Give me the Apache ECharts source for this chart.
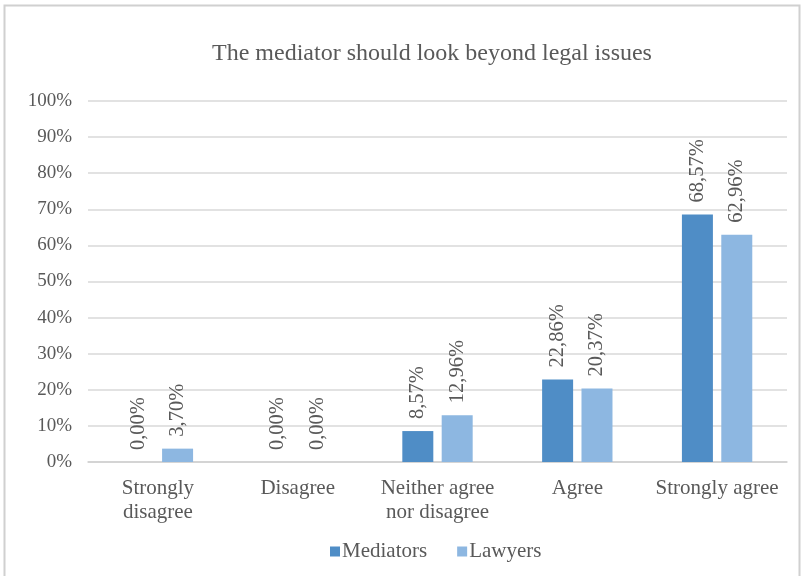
<!DOCTYPE html>
<html><head><meta charset="utf-8">
<script src="https://cdn.jsdelivr.net/npm/echarts@6/dist/echarts.min.js"></script>
<style>html,body{margin:0;padding:0;background:#fff}#c{width:805px;height:576px}</style>
</head><body><div id="c"></div>
<script>
const categories = ['Strongly\ndisagree', 'Disagree', 'Neither agree\nnor disagree', 'Agree', 'Strongly agree'];
const mediators = [0.00, 0.00, 8.57, 22.86, 68.57];
const lawyers = [3.70, 0.00, 12.96, 20.37, 62.96];
const titleText = 'The mediator should look beyond legal issues';
const font = '"Liberation Serif", "Times New Roman", serif';
const txt = '#595959';
const fmt = p => p.value.toFixed(2).replace('.', ',') + '%';
const chart = echarts.init(document.getElementById('c'), null, {renderer: 'canvas'});
const labelCfg = {show: true, position: 'top', rotate: 90, align: 'left', verticalAlign: 'middle', distance: 12,
  fontFamily: font, fontSize: 20.5, color: txt, formatter: fmt};
chart.setOption({
  animation: false,
  graphic: [{type: 'rect', shape: {x: 4.5, y: 5.5, width: 795, height: 580}, style: {fill: 'none', stroke: '#d0d0d0', lineWidth: 2}}],
  title: {text: titleText, left: 427, textAlign: 'center', top: 37, textStyle: {fontFamily: font, fontSize: 24, fontWeight: 'normal', color: txt}},
  grid: {left: 88, right: 18, top: 101, bottom: 114, containLabel: false},
  legend: {bottom: 9, left: 325, itemWidth: 10, itemHeight: 10, itemGap: 30, icon: 'rect',
    textStyle: {fontFamily: font, fontSize: 21, color: txt, padding: [0, 0, 0, -3]}, data: ['Mediators', 'Lawyers']},
  xAxis: {type: 'category', data: categories,
    axisLine: {lineStyle: {color: '#d0d0d0', width: 1.5}}, axisTick: {show: false},
    axisLabel: {fontFamily: font, fontSize: 21, color: txt, lineHeight: 24, margin: 14, interval: 0}},
  yAxis: {type: 'value', min: 0, max: 100, interval: 10,
    axisLabel: {formatter: '{value}%', fontFamily: font, fontSize: 19, color: txt, margin: 16},
    axisLine: {show: false}, axisTick: {show: false},
    splitLine: {lineStyle: {color: '#d9d9d9', width: 1.5}}},
  series: [
    {name: 'Mediators', type: 'bar', data: mediators, barWidth: 31, barGap: '27%', itemStyle: {color: '#4f8dc6'}, label: labelCfg},
    {name: 'Lawyers', type: 'bar', data: lawyers, barWidth: 31, barGap: '27%', itemStyle: {color: '#8db7e1'}, label: labelCfg}
  ]
});
</script></body></html>
